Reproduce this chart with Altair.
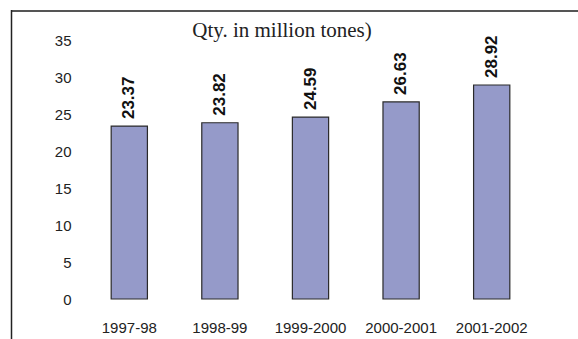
import altair as alt
import pandas as pd

# Annual quantity (million tonnes) by year
years = ["1997-98", "1998-99", "1999-2000", "2000-2001", "2001-2002"]
qty = [23.37, 23.82, 24.59, 26.63, 28.92]
y_ticks = [0, 5, 10, 15, 20, 25, 30, 35]
title_text = "Qty. in million tones)"

df = pd.DataFrame({"year": years, "qty": qty})
df["label"] = [f"{v:.2f}" for v in qty]

axis_font = "Liberation Sans"

x_enc = alt.X(
    "year:N",
    sort=years,
    title=None,
    scale=alt.Scale(paddingInner=0.6, paddingOuter=0.3),
    axis=alt.Axis(
        labelAngle=0, ticks=False, domain=False, grid=False,
        labelPadding=21, labelFontSize=15, labelFont=axis_font,
        labelColor="#222222", labelOverlap=False,
    ),
)
y_enc = alt.Y(
    "qty:Q",
    title=None,
    scale=alt.Scale(domain=[0, 35], nice=False, zero=True),
    axis=alt.Axis(
        values=y_ticks, ticks=False, domain=False, grid=False,
        labelPadding=13, labelFontSize=15, labelFont=axis_font,
        labelColor="#222222", labelOverlap=False,
    ),
)

# Bars and their value labels share one set of encodings (and so one axis each)
base = alt.Chart(df).encode(x=x_enc, y=y_enc)

bars = base.mark_bar(color="#959AC9", stroke="#2a2a2a", strokeWidth=1.2)

values = base.mark_text(
    angle=270, align="left", baseline="middle",
    font="Liberation Sans", fontWeight="bold", fontSize=17, color="#111111",
).encode(yOffset=alt.value(-7), text="label:N")

one = pd.DataFrame({"k": [0]})

heading = alt.Chart(one).mark_text(
    font="Liberation Serif", fontSize=21, color="#222222",
    align="center", baseline="alphabetic",
).encode(x=alt.value(198), y=alt.value(-3), text=alt.value(title_text))

frame_top = alt.Chart(one).mark_rule(color="#555555", strokeWidth=2).encode(
    x=alt.value(-73), x2=alt.value(494), y=alt.value(-29)
)
frame_left = alt.Chart(one).mark_rule(color="#222222", strokeWidth=1.5).encode(
    x=alt.value(-72.5), y=alt.value(-30), y2=alt.value(300)
)

chart = (
    alt.layer(frame_top, frame_left, bars, values, heading)
    .properties(
        width=453, height=259,
        autosize=alt.AutoSizeParams(type="none"),
        padding={"left": 84, "top": 40, "right": 41, "bottom": 40},
        background="white",
    )
    .configure_view(strokeWidth=0)
)

chart.save("out.html", embed_options={"renderer": "svg", "actions": False})
